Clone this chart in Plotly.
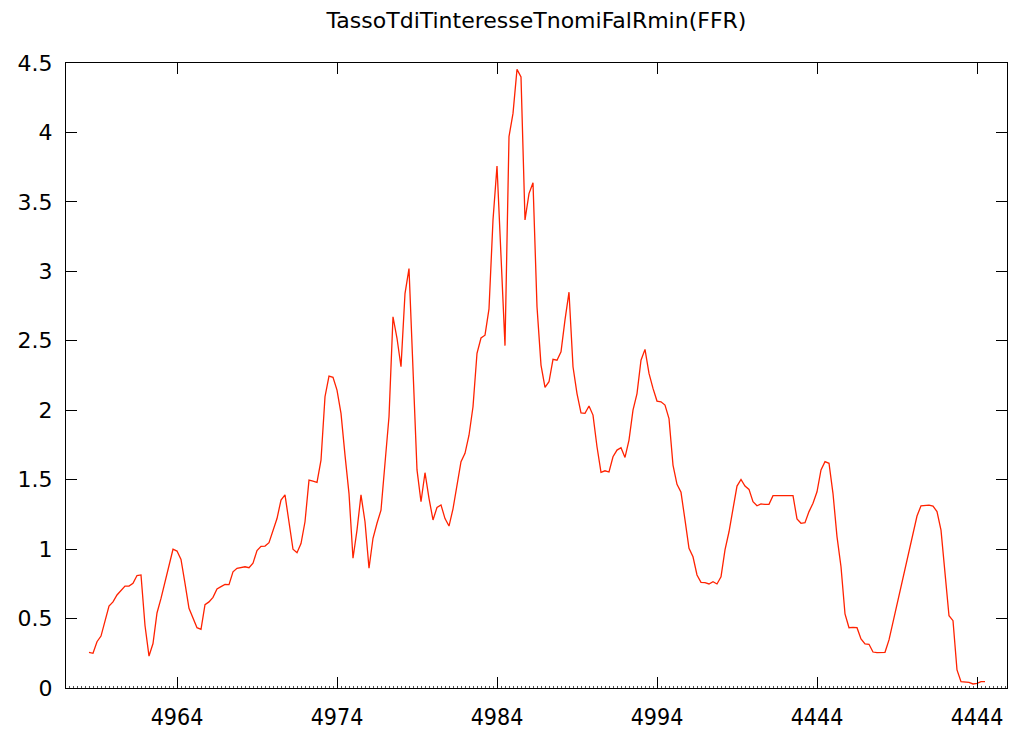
import plotly.graph_objects as go

years = [1958.5, 1958.75, 1959.0, 1959.25, 1959.75, 1960.0, 1960.25, 1960.75, 1961.0, 1961.25,
         1961.5, 1961.75, 1962.0, 1962.25, 1962.5, 1962.75, 1963.0, 1963.75, 1964.0, 1964.25,
         1964.5, 1964.75, 1965.25, 1965.5, 1965.75, 1966.0, 1966.25, 1966.5, 1966.75, 1967.0,
         1967.25, 1967.5, 1967.75, 1968.0, 1968.25, 1968.5, 1968.75, 1969.0, 1969.25, 1969.5,
         1969.75, 1970.25, 1970.5, 1970.75, 1971.0, 1971.25, 1971.5, 1971.75, 1972.0, 1972.25,
         1972.5, 1972.75, 1973.0, 1973.25, 1973.5, 1973.75, 1974.0, 1974.25, 1974.5, 1974.75,
         1975.0, 1975.25, 1975.5, 1975.75, 1976.0, 1976.25, 1976.5, 1976.75, 1977.0, 1977.25,
         1977.5, 1977.75, 1978.0, 1978.25, 1978.5, 1979.0, 1979.25, 1979.5, 1979.75, 1980.0,
         1980.25, 1980.5, 1980.75, 1981.0, 1981.25, 1981.5, 1981.75, 1982.0, 1982.25, 1982.5,
         1982.75, 1983.0, 1983.25, 1983.5, 1983.75, 1984.0, 1984.5, 1984.75, 1985.0, 1985.25,
         1985.5, 1985.75, 1986.0, 1986.25, 1986.5, 1986.75, 1987.0, 1987.25, 1987.5, 1987.75,
         1988.0, 1988.25, 1988.5, 1988.75, 1989.0, 1989.25, 1989.5, 1989.75, 1990.0, 1990.25,
         1990.5, 1990.75, 1991.0, 1991.25, 1991.5, 1991.75, 1992.0, 1992.25, 1992.5, 1992.75,
         1993.0, 1993.25, 1993.5, 1993.75, 1994.0, 1994.25, 1994.5, 1994.75, 1995.0, 1995.25,
         1995.5, 1995.75, 1996.0, 1996.25, 1996.5, 1996.75, 1997.0, 1997.25, 1997.5, 1997.75,
         1998.0, 1998.25, 1998.5, 1998.75, 1999.0, 1999.25, 1999.5, 1999.75, 2000.0, 2000.25,
         2000.5, 2000.75, 2001.0, 2001.25, 2001.5, 2001.75, 2002.0, 2002.25, 2002.5, 2002.75,
         2003.0, 2003.25, 2003.5, 2003.75, 2004.0, 2004.25, 2004.5, 2004.75, 2005.0, 2005.25,
         2005.5, 2005.75, 2006.0, 2006.25, 2006.5, 2006.75, 2007.0, 2007.25, 2007.5, 2007.75,
         2008.0, 2008.25, 2008.5, 2010.25, 2010.5, 2010.75, 2011.0, 2011.25, 2011.5, 2011.75,
         2012.0, 2012.25, 2012.5, 2012.75, 2013.0, 2013.25, 2013.5, 2013.75, 2014.0, 2014.25,
         2014.5]

ffr = [0.257, 0.25, 0.333, 0.374, 0.59, 0.62, 0.67, 0.734, 0.734, 0.754,
       0.81, 0.814, 0.45, 0.23, 0.32, 0.54, 0.645, 0.999, 0.986, 0.926,
       0.754, 0.574, 0.434, 0.422, 0.60, 0.62, 0.653, 0.713, 0.73, 0.746,
       0.744, 0.837, 0.862, 0.866, 0.873, 0.866, 0.898, 0.99, 1.02, 1.022,
       1.046, 1.22, 1.353, 1.39, 1.21, 0.999, 0.974, 1.04, 1.197, 1.497,
       1.49, 1.481, 1.64, 2.097, 2.246, 2.237, 2.145, 1.977, 1.677, 1.40,
       0.934, 1.137, 1.39, 1.197, 0.862, 1.078, 1.186, 1.281, 1.618, 1.953,
       2.673, 2.518, 2.313, 2.84, 3.02, 1.57, 1.341, 1.55, 1.366, 1.21,
       1.30, 1.318, 1.22, 1.166, 1.29, 1.46, 1.63, 1.69, 1.82, 2.025,
       2.41, 2.52, 2.54, 2.73, 3.37, 3.758, 2.465, 3.97, 4.137, 4.454,
       4.40, 3.37, 3.56, 3.638, 2.745, 2.325, 2.165, 2.205, 2.366, 2.36,
       2.42, 2.65, 2.85, 2.313, 2.12, 1.98, 1.977, 2.03, 1.965, 1.737,
       1.553, 1.564, 1.555, 1.665, 1.713, 1.73, 1.66, 1.785, 2.0, 2.12,
       2.36, 2.438, 2.265, 2.157, 2.066, 2.061, 2.037, 1.94, 1.605, 1.466,
       1.409, 1.21, 1.006, 0.945, 0.814, 0.761, 0.758, 0.749, 0.765, 0.749,
       0.80, 0.994, 1.125, 1.29, 1.454, 1.502, 1.454, 1.43, 1.341, 1.312,
       1.325, 1.322, 1.322, 1.385, 1.385, 1.382, 1.382, 1.38, 1.385, 1.217,
       1.186, 1.19, 1.27, 1.33, 1.413, 1.57, 1.63, 1.618, 1.40, 1.09,
       0.873, 0.533, 0.434, 0.437, 0.434, 0.353, 0.317, 0.315, 0.259, 0.254,
       0.254, 0.257, 0.346, 1.238, 1.312, 1.312, 1.317, 1.31, 1.27, 1.137,
       0.80, 0.52, 0.485, 0.13, 0.046, 0.046, 0.041, 0.029, 0.034, 0.046,
       0.046]

x_tick_vals = [1964, 1974, 1984, 1994, 2004, 2014]
x_tick_text = ["4964", "4974", "4984", "4994", "4444", "4444"]
title_text = "TassoTdiTinteresseTnomiFalRmin(FFR)"

x_range = [1957.0625, 2015.875]

fig = go.Figure()
fig.add_trace(go.Scatter(x=years, y=ffr, mode="lines",
                         line=dict(color="#ff2200", width=1.3),
                         showlegend=False, hoverinfo="x+y"))
# invisible trace so the top (mirror) axis is drawn
fig.add_trace(go.Scatter(x=[years[0]], y=[ffr[0]], xaxis="x2", mode="markers",
                         marker=dict(opacity=0), showlegend=False, hoverinfo="skip"))

fig.update_layout(
    width=1012, height=729,
    margin=dict(l=66, r=5, t=63, b=41, autoexpand=False),
    paper_bgcolor="white", plot_bgcolor="white",
    font=dict(family="DejaVu Sans", color="black", size=20),
    title=dict(text=title_text, x=0.5, xref="paper", y=0.972, yref="container",
               xanchor="center", yanchor="middle",
               font=dict(family="DejaVu Sans", size=22, color="black")),
    xaxis=dict(range=x_range, tickvals=x_tick_vals, ticktext=x_tick_text,
               tickfont=dict(family="DejaVu Sans Condensed", size=23),
               ticklabelstandoff=8, automargin=False,
               showgrid=False, zeroline=False, showline=True, linecolor="black",
               linewidth=1, mirror=True, ticks="inside", ticklen=11,
               tickcolor="black", tickwidth=1,
               minor=dict(dtick=0.25, tick0=1964, ticks="inside", ticklen=2,
                          tickcolor="#555555")),
    xaxis2=dict(range=x_range, overlaying="x", side="top", tickvals=x_tick_vals,
                showticklabels=False, showgrid=False, zeroline=False, showline=False,
                automargin=False,
                ticks="inside", ticklen=11, tickcolor="black", tickwidth=1),
    yaxis=dict(range=[0, 4.5], dtick=0.5, tick0=0,
               tickfont=dict(family="DejaVu Sans", size=22),
               ticklabelstandoff=8, automargin=False,
               showgrid=False, zeroline=False, showline=True, linecolor="black",
               linewidth=1, mirror="ticks", ticks="inside", ticklen=11,
               tickcolor="black", tickwidth=1),
)

fig.write_html("out.html")
